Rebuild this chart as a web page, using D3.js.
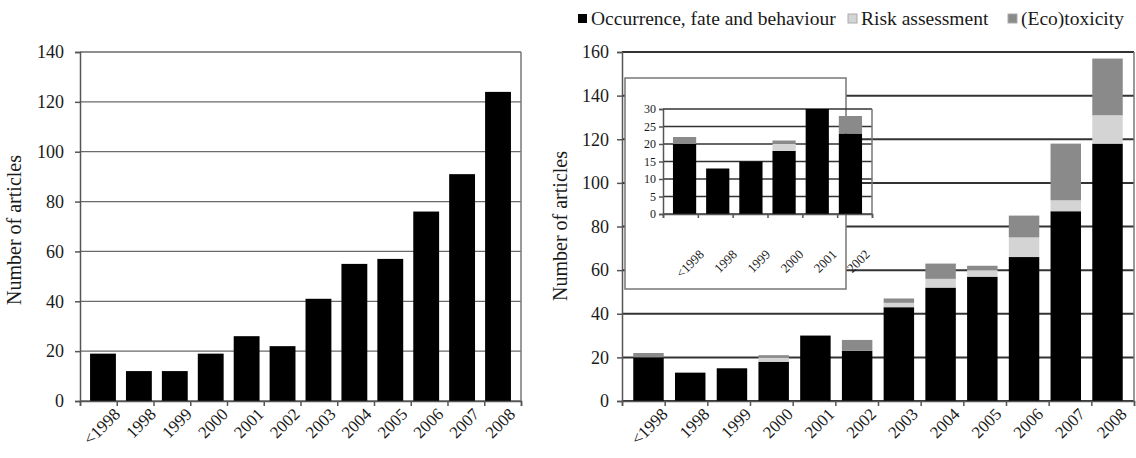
<!DOCTYPE html>
<html>
<head>
<meta charset="utf-8">
<script src="https://cdn.jsdelivr.net/npm/d3@7"></script>
<style>
  body { margin: 0; background: #fff; }
  svg text { font-family: "Liberation Serif", "Times New Roman", serif; fill: #1a1a1a; }
</style>
</head>
<body>
<svg id="chart" width="1136" height="458"></svg>
<script>
// categories shared by both panels
const years = ["<1998", "1998", "1999", "2000", "2001", "2002", "2003", "2004", "2005", "2006", "2007", "2008"];
// left panel: total articles per year
const totalArticles = [19, 12, 12, 19, 26, 22, 41, 55, 57, 76, 91, 124];
// right panel: stacked by topic
const occurrence = [20, 13, 15, 18, 30, 23, 43, 52, 57, 66, 87, 118];
const riskAssessment = [0, 0, 0, 2, 0, 0, 2, 4, 3, 9, 5, 13];
const ecotoxicity = [2, 0, 0, 1, 0, 5, 2, 7, 2, 10, 26, 26];
const seriesNames = ["Occurrence, fate and behaviour", "Risk assessment", "(Eco)toxicity"];
const seriesColors = ["#000000", "#d4d4d4", "#8a8a8a"];
const leftTicks = [0, 20, 40, 60, 80, 100, 120, 140];
const rightTicks = [0, 20, 40, 60, 80, 100, 120, 140, 160];
const insetTicks = [0, 5, 10, 15, 20, 25, 30];
const insetYears = 6; // inset zooms on the first six categories

const svg = d3.select("#chart");
const serif = '"Liberation Serif", "Times New Roman", serif';

// draw one framed bar panel
function panel(opts) {
  const g = svg.append("g").attr("transform", `translate(${opts.x},${opts.y})`);
  const w = opts.w, h = opts.h;
  const x = d3.scaleBand().domain(opts.cats).range([0, w]).padding(opts.pad);
  const y = d3.scaleLinear().domain([0, opts.max]).range([h, 0]);

  if (opts.bg) {
    g.append("rect").attr("x", opts.bg[0]).attr("y", opts.bg[1])
      .attr("width", opts.bg[2]).attr("height", opts.bg[3])
      .attr("fill", "#fff").attr("stroke", "#777").attr("stroke-width", 1.5);
  }

  // gridlines
  g.append("g").selectAll("line").data(opts.ticks).enter().append("line")
    .attr("x1", 0).attr("x2", w)
    .attr("y1", d => y(d)).attr("y2", d => y(d))
    .attr("stroke", opts.gridColor).attr("stroke-width", opts.gridWidth);

  // frame right side
  g.append("line").attr("x1", w).attr("x2", w).attr("y1", 0).attr("y2", h)
    .attr("stroke", "#777").attr("stroke-width", 1.5);

  // stacked bars
  const stack = d3.stack().keys(d3.range(opts.series.length))
    .value((d, k) => opts.series[k][d]);
  const layers = stack(d3.range(opts.cats.length));
  g.append("g").selectAll("g").data(layers).enter().append("g")
    .attr("fill", (d, i) => seriesColors[i])
    .selectAll("rect").data(d => d).enter().append("rect")
    .attr("x", d => x(opts.cats[d.data]))
    .attr("width", x.bandwidth())
    .attr("y", d => y(d[1]))
    .attr("height", d => y(d[0]) - y(d[1]));

  // y axis
  const ya = g.append("g").call(d3.axisLeft(y).tickValues(opts.ticks).tickSize(opts.tick).tickPadding(opts.tp));
  ya.select(".domain").attr("stroke", "#555").attr("stroke-width", 1.5);
  ya.selectAll(".tick line").attr("stroke", "#555").attr("stroke-width", 1.5);
  ya.selectAll("text").style("font-size", opts.fs + "px").style("font-family", serif).attr("fill", "#333");

  // x axis line with boundary ticks
  const xb = d3.scaleLinear().domain([0, opts.cats.length]).range([0, w]);
  const xa = g.append("g").attr("transform", `translate(0,${h})`)
    .call(d3.axisBottom(xb).ticks(opts.cats.length).tickSize(opts.tick).tickFormat(""));
  xa.select(".domain").attr("stroke", "#555").attr("stroke-width", 1.5);
  xa.selectAll(".tick line").attr("stroke", "#555").attr("stroke-width", 1.5);

  // rotated category labels
  const xl = g.append("g").attr("transform", `translate(0,${h})`)
    .call(d3.axisBottom(x).tickSize(0).tickPadding(0));
  xl.select(".domain").remove();
  xl.selectAll("text")
    .style("font-size", opts.xfs + "px").style("font-family", serif).attr("fill", "#333")
    .style("text-anchor", "end")
    .attr("dy", "0.35em")
    .attr("transform", `translate(${opts.lx},${opts.ly}) rotate(-45)`);
  return g;
}

// left panel
panel({ x: 80, y: 52, w: 441, h: 349, cats: years, series: [totalArticles], max: 140,
  ticks: leftTicks, pad: 0.28, gridColor: "#6a6a6a", gridWidth: 1.3, tick: 5, tp: 11, fs: 18, xfs: 17,
  lx: 14, ly: 10 });
svg.append("text").attr("transform", "translate(21,230) rotate(-90)")
  .attr("text-anchor", "middle").style("font-size", "20px").text("Number of articles");

// right panel
panel({ x: 622, y: 52, w: 512, h: 349, cats: years,
  series: [occurrence, riskAssessment, ecotoxicity], max: 160,
  ticks: rightTicks, pad: 0.27, gridColor: "#333", gridWidth: 2, tick: 5, tp: 8, fs: 18, xfs: 17,
  lx: 16, ly: 10 });
svg.append("text").attr("transform", "translate(567,226) rotate(-90)")
  .attr("text-anchor", "middle").style("font-size", "20px").text("Number of articles");

// inset with first six years
const cut = a => a.slice(0, insetYears);
panel({ x: 663, y: 109, w: 209, h: 105, cats: cut(years),
  series: [cut(occurrence), cut(riskAssessment), cut(ecotoxicity)], max: 30,
  ticks: insetTicks, pad: 0.3, gridColor: "#333", gridWidth: 1.6, tick: 4, tp: 3, fs: 12, xfs: 13,
  lx: 17, ly: 38, bg: [-38, -31, 221, 211] });

// legend
const legend = svg.append("g").attr("transform", "translate(578,19)");
const legendX = [0, 270, 430];
seriesNames.forEach((name, i) => {
  const item = legend.append("g").attr("transform", `translate(${legendX[i]},0)`);
  item.append("rect").attr("x", 0).attr("y", -5).attr("width", 9).attr("height", 9)
    .attr("fill", seriesColors[i]).attr("stroke", i ? "#aaa" : "none");
  item.append("text").attr("x", 13).attr("y", 6).style("font-size", "19.5px").text(name);
});
</script>
</body>
</html>
